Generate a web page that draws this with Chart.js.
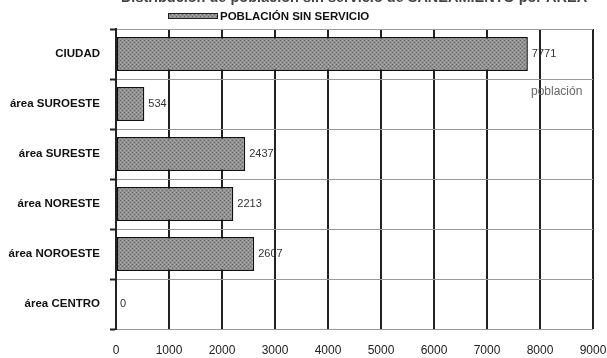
<!DOCTYPE html>
<html>
<head>
<meta charset="utf-8">
<script src="https://cdn.jsdelivr.net/npm/chart.js@4"></script>
<style>
  html, body { margin: 0; padding: 0; background: #fff; }
  #wrap { width: 607px; height: 358px; position: relative; }
</style>
</head>
<body>
<div id="wrap"><canvas id="chart" width="607" height="358"></canvas></div>
<script>
// Chart data
const titleText = 'Distribución de población sin servicio de SANEAMIENTO por AREA';
const seriesName = 'POBLACIÓN SIN SERVICIO';
const axisTitle = 'población';
const areas = ['CIUDAD', 'área SUROESTE', 'área SURESTE', 'área NORESTE', 'área NOROESTE', 'área CENTRO'];
const population = [7771, 534, 2437, 2213, 2607, 0];
const xTicks = [0, 1000, 2000, 3000, 4000, 5000, 6000, 7000, 8000, 9000];

const FONT = '"Liberation Sans", Arial, sans-serif';

// Dotted grey fill, like an old halftone print
function makePattern() {
  const c = document.createElement('canvas');
  c.width = 4; c.height = 4;
  const g = c.getContext('2d');
  g.fillStyle = '#929292';
  g.fillRect(0, 0, 4, 4);
  g.fillStyle = '#666';
  g.fillRect(0, 0, 1, 1);
  g.fillRect(2, 2, 1, 1);
  g.fillStyle = '#ababab';
  g.fillRect(2, 0, 1, 1);
  g.fillRect(0, 2, 1, 1);
  return g.createPattern(c, 'repeat');
}
const barFill = makePattern();

// Title (cut off at the top edge), legend, axis title, value labels
const decorations = {
  id: 'decorations',
  afterDraw(chart) {
    const ctx = chart.ctx;
    ctx.save();

    ctx.fillStyle = '#444';
    ctx.font = 'bold 14.5px ' + FONT;
    ctx.textAlign = 'center';
    ctx.textBaseline = 'alphabetic';
    ctx.fillText(titleText, 354, 2);

    // legend
    ctx.fillStyle = barFill;
    ctx.fillRect(168, 13, 50, 6);
    ctx.strokeStyle = '#222';
    ctx.lineWidth = 1;
    ctx.strokeRect(168.5, 13.5, 49, 5);
    ctx.fillStyle = '#111';
    ctx.font = 'bold 11.5px ' + FONT;
    ctx.textAlign = 'left';
    ctx.textBaseline = 'middle';
    ctx.fillText(seriesName, 220, 17);

    // axis title inside plot
    ctx.fillStyle = '#666';
    ctx.font = '12px ' + FONT;
    ctx.fillText(axisTitle, 531, 92);

    // value labels
    const meta = chart.getDatasetMeta(0);
    ctx.fillStyle = '#333';
    ctx.font = '11px ' + FONT;
    meta.data.forEach((bar, i) => {
      ctx.fillText(String(population[i]), bar.x + 4, bar.y);
    });

    ctx.restore();
  }
};

new Chart(document.getElementById('chart'), {
  type: 'bar',
  data: {
    labels: areas,
    datasets: [{
      label: seriesName,
      data: population,
      backgroundColor: barFill,
      borderColor: '#111',
      borderWidth: 1.5,
      borderSkipped: false,
      categoryPercentage: 1,
      barPercentage: 0.68
    }]
  },
  options: {
    indexAxis: 'y',
    responsive: false,
    animation: false,
    layout: { padding: { top: 29, right: 0, left: 0, bottom: 0 } },
    plugins: {
      legend: { display: false },
      title: { display: false },
      tooltip: { enabled: false }
    },
    scales: {
      x: {
        min: 0,
        max: 9000,
        afterBuildTicks(scale) {
          scale.ticks = xTicks.map(v => ({ value: v }));
        },
        afterFit(scale) {
          scale.height = 29;
          scale.paddingRight = 14;
          scale.paddingLeft = 0;
        },
        grid: {
          color: '#222',
          lineWidth: 2,
          drawTicks: false
        },
        border: { display: false },
        ticks: {
          padding: 14,
          color: '#222',
          font: { family: FONT, size: 12 },
          maxRotation: 0,
          callback: v => String(v)
        }
      },
      y: {
        afterFit(scale) { scale.width = 116; },
        grid: {
          offset: true,
          color: '#9a9a9a',
          lineWidth: 1,
          tickLength: 6,
          tickColor: '#222',
          tickWidth: 2
        },
        border: { display: true, color: '#222', width: 2 },
        ticks: {
          padding: 10,
          color: '#111',
          font: { family: FONT, size: 11.5, weight: 'bold' }
        }
      }
    }
  },
  plugins: [decorations]
});
</script>
</body>
</html>
